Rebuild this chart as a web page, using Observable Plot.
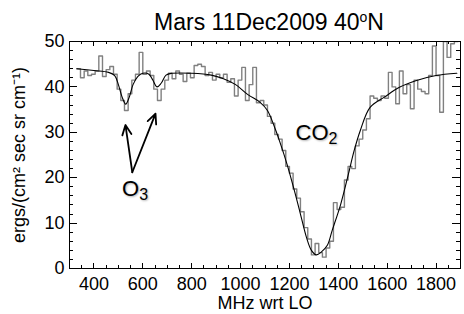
<!DOCTYPE html>
<html><head><meta charset="utf-8">
<script src="https://cdn.jsdelivr.net/npm/d3@7"></script>
<script src="https://cdn.jsdelivr.net/npm/@observablehq/plot@0.6"></script>
<style>
body{margin:0;background:#fff;}
#wrap{position:relative;width:464px;height:314px;overflow:hidden;font-family:"Liberation Sans",Arial,sans-serif;}
#title{position:absolute;left:0;top:0;width:464px;box-sizing:border-box;padding-top:11px;padding-left:74px;font-size:23px;line-height:23px;text-align:center;color:#000;white-space:nowrap;z-index:2;}
#title sup{font-size:14px;line-height:0;vertical-align:8px;}
#chart g[aria-label="text"] text{ text-shadow: 1px 1px 2px rgba(0,0,0,0.3); }
</style></head>
<body>
<div id="wrap"><div id="title">Mars 11Dec2009 40<sup>o</sup>N</div><div id="chart"></div></div>
<script>
// Observed spectrum: channel start frequencies (MHz wrt LO), 15 MHz channels
const channelStart = d3.range(330, 1890, 15);
const channelWidth = 15;
const spectrum = [
  44.0, 42.0, 43.5, 42.5, 42.8, 43.5, 46.8, 42.3, 43.8, 44.5,
  42.8, 39.5, 37.0, 34.8, 38.5, 41.5, 42.8, 47.6, 42.8, 43.5,
  42.5, 39.5, 37.0, 39.5, 41.5, 43.0, 41.8, 43.5, 42.8, 41.2,
  43.0, 42.0, 44.7, 45.0, 44.5, 42.5, 43.2, 41.5, 42.8, 42.0,
  42.8, 41.0, 41.8, 38.0, 41.5, 44.3, 37.0, 40.5, 44.3, 36.5,
  37.0, 36.0, 33.5, 32.0, 29.5, 28.5, 26.0, 22.5, 21.0, 17.5,
  15.5, 12.5, 9.0, 6.5, 3.0, 5.5, 3.5, 2.5, 4.5, 6.0,
  14.5, 13.0, 13.5, 19.5, 22.5, 22.0, 27.0, 28.5, 30.5, 33.0,
  38.0, 37.5, 37.0, 38.0, 37.5, 43.2, 40.0, 36.3, 43.5, 38.5,
  40.5, 35.2, 41.5, 39.5, 39.0, 38.5, 42.5, 49.0, 42.5, 34.4,
  50.0, 46.5, 49.5, 50.0
];
// Model fit curve
const modelFreq = [330, 400, 460, 485, 500, 515, 530, 545, 560, 580, 600, 625, 640, 658, 675, 695, 720, 800, 880, 930, 980, 1030, 1080, 1110, 1140, 1160, 1190, 1220, 1245, 1270, 1290, 1310, 1330, 1355, 1375, 1410, 1440, 1465, 1490, 1530, 1590, 1650, 1720, 1800, 1885];
const modelVal = [44.0, 43.6, 43.2, 42.5, 40.5, 37.8, 36.2, 37.8, 40.5, 42.3, 43.0, 42.8, 41.6, 40.0, 40.8, 42.6, 43.0, 43.0, 42.6, 41.8, 40.5, 38.3, 36.6, 34.8, 31.0, 28.0, 23.0, 17.2, 12.0, 6.8, 4.0, 3.0, 3.6, 5.1, 8.4, 14.2, 20.5, 26.0, 30.4, 35.5, 37.8, 39.9, 41.4, 42.5, 43.0];
// Ticks
const xMajorTicks = [400, 600, 800, 1000, 1200, 1400, 1600, 1800];
const xMinorTicks = [350, 450, 500, 550, 650, 700, 750, 850, 900, 950, 1050, 1100, 1150, 1250, 1300, 1350, 1450, 1500, 1550, 1650, 1700, 1750, 1850];
const yMajorTicks = [0, 10, 20, 30, 40, 50];
const yMinorTicks = [2, 4, 6, 8, 12, 14, 16, 18, 22, 24, 26, 28, 32, 34, 36, 38, 42, 44, 46, 48];
// Labels & annotations (molecule name + subscript)
const xLabel = "MHz wrt LO";
const yLabel = "ergs/(cm² sec sr cm⁻¹)";
const labels = [
  {name: "CO", sub: "2", f: 1360, v: 29.8},
  {name: "O", sub: "3", f: 585, v: 17.5}
];
const arrows = [
  {f1: 557, v1: 21.2, f2: 529, v2: 31.6},
  {f1: 557, v1: 21.2, f2: 652, v2: 34.1}
];

const histRows = channelStart.map((f, i) => ({f, v: spectrum[i]}));
histRows.push({f: channelStart[channelStart.length - 1] + channelWidth, v: spectrum[spectrum.length - 1]});
const modelRows = modelFreq.map((f, i) => ({f, v: modelVal[i]}));
const fmt = d => String(d);

const W = 464, H = 314, mL = 69, mR = 4, mT = 41, mB = 46;
const fw = W - mL - mR, fh = H - mT - mB;
const tickStyle = {stroke: "black", strokeWidth: 1, shapeRendering: "crispEdges"};
const xTick = (ticks, len, side) => Plot.ruleX(ticks, {x: d => d, ...(side === "bottom" ? {insetTop: fh - len} : {insetBottom: fh - len}), ...tickStyle});
const yTick = (ticks, len, side) => Plot.ruleY(ticks, {y: d => d, ...(side === "left" ? {insetRight: fw - len} : {insetLeft: fw - len}), ...tickStyle});

const chart = Plot.plot({
  width: W, height: H,
  marginLeft: mL, marginRight: mR, marginTop: mT, marginBottom: mB,
  x: {domain: [300, 1900]},
  y: {domain: [0, 50]},
  style: {fontFamily: "Liberation Sans, Arial, sans-serif", fontSize: "18px", color: "black", background: "white"},
  marks: [
    Plot.line(histRows, {x: "f", y: "v", curve: "step-after", stroke: "#808080", strokeWidth: 1.4, clip: true}),
    Plot.line(modelRows, {x: "f", y: "v", curve: "catmull-rom", stroke: "black", strokeWidth: 1.1, clip: true}),
    // inward ticks on all four sides
    xTick(xMinorTicks, 3, "bottom"), xTick(xMajorTicks, 5, "bottom"),
    xTick(xMinorTicks, 3, "top"), xTick(xMajorTicks, 5, "top"),
    yTick(yMinorTicks, 4, "left"), yTick(yMajorTicks, 8, "left"),
    yTick(yMinorTicks, 4, "right"), yTick(yMajorTicks, 8, "right"),
    Plot.frame({stroke: "black", strokeWidth: 1}),
    // tick labels + axis labels
    Plot.axisX({ticks: xMajorTicks, tickFormat: fmt, tickSize: 0, tickPadding: 9, label: xLabel, labelAnchor: "center", labelArrow: false, labelOffset: 40}),
    Plot.axisY({ticks: yMajorTicks, tickFormat: fmt, tickSize: 0, tickPadding: 5, label: yLabel, labelAnchor: "center", labelArrow: false, labelOffset: 57}),
    // annotations
    Plot.arrow(arrows, {x1: "f1", y1: "v1", x2: "f2", y2: "v2", stroke: "black", strokeWidth: 1.8, headLength: 9, headAngle: 50}),
    Plot.text(labels, {x: "f", y: "v", text: "name", fontSize: 22, textAnchor: "end", lineAnchor: "middle", fill: "black"}),
    Plot.text(labels, {x: "f", y: "v", text: "sub", fontSize: 16, textAnchor: "start", lineAnchor: "middle", dy: 6, fill: "black"})
  ]
});
document.getElementById("chart").appendChild(chart);
</script>
</body></html>
